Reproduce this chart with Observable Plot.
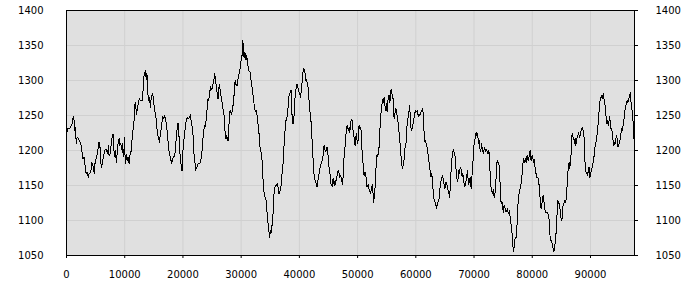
<!DOCTYPE html>
<html>
<head>
<meta charset="utf-8">
<script src="https://cdn.jsdelivr.net/npm/d3@7"></script>
<script src="https://cdn.jsdelivr.net/npm/@observablehq/plot@0.6"></script>
<style>
  html, body { margin: 0; padding: 0; background: #ffffff; }
</style>
</head>
<body>
<div id="chart"></div>
<script>
const xPos = [
0,60,230,518,690,978,1150,1323,1438,1553,1668,1840,2013,2243,2415,2588,2703,2818,2990,3163,3278,3393,3565,3738,3853,4025,4198,4313,4428,4600,4773,4888,5003,5175,5348,5463,5578,5750,5923,6038,6153,6268,6440,6555,6728,6900,7073,7188,7303,7475,7648,7763,7878,7993,8108,8223,8338,8453,8568,8740,8913,9028,9143,9315,9488,9603,9718,9833,9948,10063,10178,10293,10408,10580,10753,10925,11040,11213,11385,11500,11673,11788,11903,12018,12190,12363,12535,12708,12880,13053,13168,13283,13398,13513,13628,13743,13858,13973,14088,14203,14318,14433,14548,14663,14778,14893,15065,
15376,15490,15662,15834,15949,16063,16235,16407,16521,16693,16808,16922,17094,17266,17438,17552,17724,17896,18068,18182,18354,18526,18697,18812,18984,19156,19270,19385,19499,19614,19728,19843,19957,20072,20186,20301,20415,20530,20645,20759,20931,21103,21275,21389,21504,21676,21790,21905,22019,22134,22248,22363,22477,22649,22821,22993,23107,23279,23394,23508,23623,23737,23852,23966,24081,24195,24310,24424,24539,24654,24768,24883,24997,25112,25226,25341,25455,25570,25685,25799,25914,26028,26143,26257,26372,26486,26601,26715,26830,26944,27059,27173,27288,27403,27517,27632,27746,27861,27975,28090,28204,28319,28433,28548,28662,28777,28892,29006,29121,29235,29350,29464,29579,29693,29808,29923,30037,30152,30266,30381,30495,30610,30724,30839,30953,31068,31183,31297,
31525,31697,31869,31983,32098,32270,32441,32613,32728,32899,33071,33243,33415,33587,33701,33816,33988,34159,34274,34389,34503,34675,34789,34904,35018,35133,35248,35362,35477,35591,35706,35820,35935,36049,36164,36278,36393,36507,36622,36736,36851,36966,37080,37195,37309,37424,37538,37653,37767,37882,37996,38111,38225,38340,38455,38569,38684,38798,38913,39027,39142,39256,39371,39485,39600,39714,39829,39944,40058,40173,40287,40402,40516,40631,40745,40860,40975,41089,41204,41318,41433,41547,41662,41776,41891,42005,42120,42234,42349,42463,42578,42692,42807,42922,43036,43151,43265,43380,43494,43609,43723,43838,43953,44067,44182,44296,44411,44525,44640,44754,44869,44983,45098,45213,45327,45442,45556,45671,45785,45900,46014,46129,46243,46358,46472,46587,46702,46816,46931,47045,47160,47274,47389,47503,47618,47732,
47961,48075,48190,48304,48419,48533,48648,48762,48877,48991,49106,49220,49335,49450,49564,49679,49793,49908,50022,50137,50251,50366,50480,50595,50710,50824,50939,51053,51168,51282,51397,51511,51626,51740,51855,51969,52084,52199,52313,52428,52542,52657,52771,52886,53000,53115,53229,53344,53459,53573,53688,53802,53917,54031,54146,54260,54375,54489,54604,54718,54833,54948,55062,55177,55291,55406,55520,55635,55749,55864,55978,56093,56207,56322,56437,56551,56666,56780,56895,57009,57124,57238,57353,57467,57582,57696,57811,57926,58040,58155,58269,58384,58498,58613,58727,58842,58956,59071,59185,59300,59415,59529,59644,59758,59873,59987,60102,60216,60331,60445,60560,60674,60789,60904,61018,61133,61247,61362,61476,61591,61705,61820,61934,62049,62163,62278,62393,62507,62622,62736,62851,62965,63080,63194,63309,63423,63538,63652,63767,63882,63996,64111,
64282,64396,64511,64625,64740,64854,64969,65083,65198,65312,65427,65541,65656,65771,65885,66000,66114,66229,66343,66458,66572,66687,66801,66916,67031,67145,67260,67374,67489,67603,67718,67832,67947,68061,68176,68291,68405,68520,68634,68749,68863,68978,69092,69207,69321,69436,69550,69665,69780,69894,70009,70123,70238,70352,70467,70581,70696,70810,70925,71039,71154,71268,71383,71498,71612,71727,71841,71956,72070,72185,72299,72414,72528,72643,72757,72872,72987,73101,73216,73330,73445,73559,73674,73788,73903,74017,74132,74246,74361,74476,74590,74705,74819,74934,75048,75163,75277,75392,75506,75621,75735,75850,75965,76079,76194,76308,76423,76537,76652,76766,76881,76995,77110,77224,77339,77454,77568,77683,77797,77912,78026,78141,78255,78370,78484,78599,78713,78828,78943,79057,79172,79286,79401,79515,79630,79744,79859,79973,80088,80202,80317,80431,80546,80661,80775,80890,81004,81119,81233,
81290,81404,81519,81633,81748,81862,81977,82092,82206,82321,82492,82664,82836,82951,83065,83180,83352,83466,83581,83695,83810,83924,84039,84153,84268,84382,84497,84611,84726,84841,84955,85070,85184,85299,85413,85528,85642,85757,85871,85986,86100,86215,86330,86444,86559,86673,86788,86902,87017,87131,87246,87360,87475,87589,87704,87819,87933,88048,88162,88277,88391,88506,88620,88735,88849,88964,89078,89193,89308,89422,89537,89651,89766,89880,89995,90109,90224,90338,90453,90567,90682,90797,90911,91026,91140,91255,91369,91484,91598,91713,91827,91942,92056,92171,92286,92400,92515,92629,92744,92858,92973,93087,93202,93316,93431,93545,93660,93775,93889,94004,94118,94233,94347,94462,94576,94691,94805,94920,95034,95149,95264,95378,95493,95607,95722,95836,95951,96065,96180,96294,96409,96523,96638,96753,96867,96982,97096,97211,97325,97440,97497,97560
];
const yVal = [
1238,1226,1231,1231,1233,1238,1248,1243,1229,1233,1210,1219,1217,1214,1210,1205,1195,1188,1191,1181,1171,1167,1169,1162,1166,1167,1171,1183,1181,1176,1167,1181,1186,1191,1198,1205,1212,1205,1181,1176,1183,1188,1195,1200,1202,1200,1195,1207,1193,1195,1207,1214,1221,1224,1205,1191,1200,1195,1183,1200,1214,1217,1207,1210,1202,1210,1195,1191,1219,1191,1181,1195,1186,1191,1181,1195,1195,1210,1229,1231,1252,1269,1262,1252,1260,1269,1274,1271,1271,1271,1288,1305,1312,1305,1314,1302,1307,1281,1276,1269,1276,1262,1276,1279,1281,1276,1262,
1247,1234,1222,1217,1212,1219,1229,1241,1248,1245,1250,1247,1241,1229,1214,1202,1195,1188,1181,1186,1191,1191,1200,1214,1229,1239,1229,1210,1195,1183,1179,1171,1191,1210,1217,1226,1233,1241,1245,1247,1245,1247,1251,1243,1238,1229,1214,1195,1191,1171,1176,1174,1179,1181,1181,1183,1188,1200,1212,1224,1231,1236,1234,1243,1255,1262,1274,1271,1279,1286,1291,1287,1288,1293,1298,1302,1310,1302,1295,1288,1279,1274,1288,1295,1288,1279,1276,1269,1262,1257,1250,1236,1219,1217,1221,1217,1214,1233,1243,1257,1255,1252,1255,1260,1269,1279,1295,1300,1293,1295,1293,1302,1307,1312,1317,1324,1331,1336,1357,1350,1333,1340,1338,1329,1336,1326,1321,1314,
1312,1300,1290,1283,1276,1262,1255,1257,1250,1238,1224,1205,1198,1186,1171,1145,1138,1131,1129,1119,1105,1091,1083,1076,1086,1083,1091,1095,1110,1131,1145,1148,1150,1152,1150,1153,1143,1138,1141,1144,1150,1162,1171,1181,1200,1214,1229,1241,1245,1248,1257,1264,1279,1281,1283,1286,1262,1238,1243,1238,1262,1276,1283,1293,1295,1293,1286,1283,1281,1276,1283,1290,1305,1312,1317,1314,1310,1300,1301,1298,1295,1286,1271,1260,1248,1241,1229,1202,1188,1169,1162,1157,1155,1152,1148,1155,1162,1167,1171,1179,1181,1183,1188,1193,1205,1207,1200,1198,1202,1205,1195,1191,1176,1169,1162,1152,1150,1148,1160,1155,1150,1157,1152,1162,1164,1169,1171,1167,1162,1164,1162,1157,1152,1162,1186,1193,
1219,1229,1236,1231,1229,1233,1226,1233,1243,1245,1241,1229,1224,1214,1207,1219,1224,1214,1210,1219,1236,1231,1233,1229,1210,1188,1181,1167,1164,1169,1167,1155,1148,1150,1152,1145,1143,1138,1143,1148,1152,1138,1126,1136,1148,1169,1183,1195,1191,1198,1205,1226,1241,1255,1264,1269,1274,1269,1276,1262,1257,1267,1255,1269,1276,1279,1269,1274,1288,1283,1276,1274,1250,1245,1255,1260,1257,1250,1243,1236,1226,1217,1202,1191,1181,1174,1179,1183,1191,1205,1207,1217,1238,1243,1252,1257,1264,1241,1231,1229,1233,1238,1245,1248,1255,1257,1255,1257,1252,1248,1252,1250,1252,1255,1257,1260,1255,1233,1219,1212,1214,1207,1205,1198,1191,1183,1174,1169,1162,1167,1157,1143,1131,1129,1126,1124,1117,1122,1124,1129,1131,1143,
1155,1160,1162,1164,1157,1152,1145,1150,1155,1152,1148,1143,1141,1133,1143,1162,1181,1191,1198,1202,1198,1193,1191,1171,1162,1155,1160,1171,1167,1174,1176,1169,1162,1167,1160,1152,1148,1150,1157,1164,1171,1160,1152,1155,1162,1150,1145,1167,1181,1191,1210,1214,1219,1226,1221,1224,1217,1210,1214,1200,1198,1210,1205,1200,1195,1202,1205,1198,1202,1200,1198,1195,1200,1193,1167,1150,1143,1141,1138,1145,1133,1138,1143,1162,1181,1186,1183,1181,1176,1152,1129,1124,1126,1117,1112,1122,1119,1117,1112,1114,1117,1112,1110,1114,1105,1098,1091,1081,1067,1055,1062,1072,1076,1076,1086,1107,1126,1136,1141,1145,1150,1155,1167,1179,1188,1183,1186,1188,1183,1191,1193,1186,1188,1195,1200,1188,1186,1193,1191,1183,1188,1181,1169,1167,1162,1162,1160,1152,1150,
1138,1124,1117,1122,1129,1136,1129,1122,1114,1112,1112,1110,1107,1095,1076,1072,1069,1064,1060,1055,1060,1067,1076,1091,1110,1129,1126,1124,1119,1112,1102,1100,1107,1124,1122,1129,1126,1129,1131,1150,1167,1179,1183,1174,1186,1195,1221,1224,1219,1217,1210,1217,1207,1214,1219,1221,1226,1221,1219,1224,1229,1231,1233,1229,1229,1200,1181,1171,1167,1169,1164,1174,1176,1162,1164,1171,1174,1179,1183,1188,1198,1207,1212,1214,1224,1233,1243,1257,1269,1274,1276,1279,1274,1281,1276,1269,1264,1255,1238,1243,1238,1236,1243,1248,1236,1229,1231,1221,1214,1207,1212,1210,1217,1221,1217,1205,1207,1210,1214,1219,1226,1231,1229,1236,1243,1250,1260,1264,1269,1271,1269,1271,1276,1279,1283,1267,1262,1250,1240,1233,1207,1205
];
const xTicks = [0, 10000, 20000, 30000, 40000, 50000, 60000, 70000, 80000, 90000];
const yTicks = [1050, 1100, 1150, 1200, 1250, 1300, 1350, 1400];

const data = xPos.map((x, i) => ({x, y: yVal[i]}));

const chart = Plot.plot({
  width: 700,
  height: 300,
  marginLeft: 66,
  marginRight: 66,
  marginTop: 10,
  marginBottom: 45,
  style: {fontFamily: "DejaVu Sans", fontSize: "10px", background: "#ffffff", color: "#000000"},
  x: {domain: [0, 97560]},
  y: {domain: [1050, 1400]},
  marks: [
    Plot.frame({fill: "#e0e0e0", stroke: null}),
    Plot.gridX(xTicks, {stroke: "#d0d0d0", strokeOpacity: 1}),
    Plot.gridY(yTicks, {stroke: "#d0d0d0", strokeOpacity: 1}),
    Plot.line(data, {x: "x", y: "y", stroke: "#000000", strokeWidth: 1, shapeRendering: "crispEdges"}),
    Plot.frame({stroke: "#000000"}),
    Plot.axisX(xTicks, {tickSize: 3, tickPadding: 12, tickFormat: "d", label: null}),
    Plot.axisY(yTicks, {anchor: "left", tickSize: 0, tickPadding: 23, tickFormat: "d", label: null}),
    Plot.axisY(yTicks, {anchor: "right", tickSize: 3, tickPadding: 18, tickFormat: "d", label: null})
  ]
});
document.getElementById("chart").appendChild(chart);
</script>
</body>
</html>
